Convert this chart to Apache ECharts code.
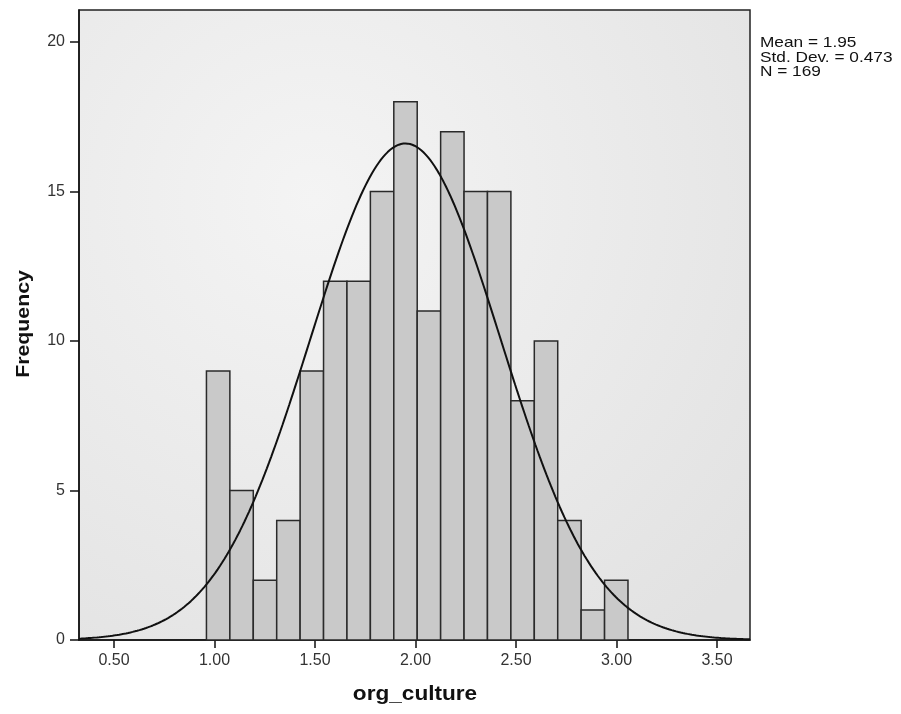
<!DOCTYPE html>
<html><head><meta charset="utf-8">
<script src="https://cdn.jsdelivr.net/npm/echarts@6/dist/echarts.min.js"></script>
<style>html,body{margin:0;padding:0;background:#fff}#c{width:901px;height:714px}</style>
</head><body><div id="c"></div>
<script>
// Histogram bins (left edge of first bin, bin width) and counts
const binStart = 0.96;
const binWidth = 0.1165;
const counts = [9, 5, 2, 4, 9, 12, 12, 15, 18, 11, 17, 15, 15, 8, 10, 4, 1, 2];
const xTicks = [0.5, 1.0, 1.5, 2.0, 2.5, 3.0, 3.5];
const yTicks = [0, 5, 10, 15, 20];
const stats = { mean: 1.95, sd: 0.473, n: 169 };

const bins = counts.map((c, i) => [binStart + i * binWidth, binStart + (i + 1) * binWidth, c]);

// fitted normal curve from the stated mean / sd / N
const xmin = 0.326, xmax = 3.664;
const curve = [];
for (let k = 0; k <= 300; k++) {
  const x = xmin + (xmax - xmin) * k / 300;
  const z = (x - stats.mean) / stats.sd;
  curve.push([x, stats.n * binWidth * Math.exp(-0.5 * z * z) / (stats.sd * Math.sqrt(2 * Math.PI))]);
}

const FONT = 'Liberation Sans, Arial, sans-serif';
const chart = echarts.init(document.getElementById('c'));
chart.setOption({
  animation: false,
  grid: {
    left: 79, right: 151, top: 10, bottom: 74, show: true,
    borderColor: '#222', borderWidth: 1.5,
    backgroundColor: new echarts.graphic.RadialGradient(0.35, 0.3, 0.9, [
      { offset: 0, color: '#f4f4f4' }, { offset: 1, color: '#e2e2e2' }
    ])
  },
  xAxis: {
    type: 'value', min: xmin, max: xmax,
    splitLine: { show: false },
    axisLine: { lineStyle: { color: '#111', width: 1.5 } },
    axisTick: { customValues: xTicks, length: 8, lineStyle: { color: '#111', width: 1.5 } },
    axisLabel: { customValues: xTicks, formatter: v => v.toFixed(2), color: '#333', fontFamily: FONT, fontSize: 16, margin: 13 }
  },
  yAxis: {
    type: 'value', min: 0, max: 21.07,
    splitLine: { show: false },
    axisLine: { show: true, lineStyle: { color: '#111', width: 1.5 } },
    axisTick: { show: true, customValues: yTicks, length: 9, lineStyle: { color: '#111', width: 1.5 } },
    axisLabel: { customValues: yTicks, color: '#333', fontFamily: FONT, fontSize: 16, margin: 14 }
  },
  series: [
    {
      type: 'custom',
      data: bins,
      renderItem: (params, api) => {
        const p0 = api.coord([api.value(0), api.value(2)]);
        const p1 = api.coord([api.value(1), 0]);
        return {
          type: 'rect',
          shape: { x: p0[0], y: p0[1], width: p1[0] - p0[0], height: p1[1] - p0[1] },
          style: { fill: '#c9c9c9', stroke: '#2a2a2a', lineWidth: 1.5 }
        };
      },
      encode: { x: [0, 1], y: 2 }
    },
    {
      type: 'line', data: curve, showSymbol: false, smooth: false,
      lineStyle: { color: '#111', width: 2 }, z: 5
    }
  ],
  graphic: [
    {
      type: 'text', x: 760, y: 36, scaleX: 1.15,
      style: {
        text: 'Mean = ' + stats.mean.toFixed(2) + '\nStd. Dev. = ' + stats.sd + '\nN = ' + stats.n,
        fontFamily: FONT, fontSize: 15, lineHeight: 14.5, fill: '#111'
      }
    },
    {
      type: 'text', x: 415, y: 694, scaleX: 1.13,
      style: { text: 'org_culture', fontFamily: FONT, fontWeight: 'bold', fontSize: 20, fill: '#111', align: 'center', verticalAlign: 'middle' }
    },
    {
      type: 'text', x: 24, y: 324, rotation: Math.PI / 2, scaleX: 1.12,
      style: { text: 'Frequency', fontFamily: FONT, fontWeight: 'bold', fontSize: 19, fill: '#111', align: 'center', verticalAlign: 'middle' }
    }
  ]
});
</script></body></html>
